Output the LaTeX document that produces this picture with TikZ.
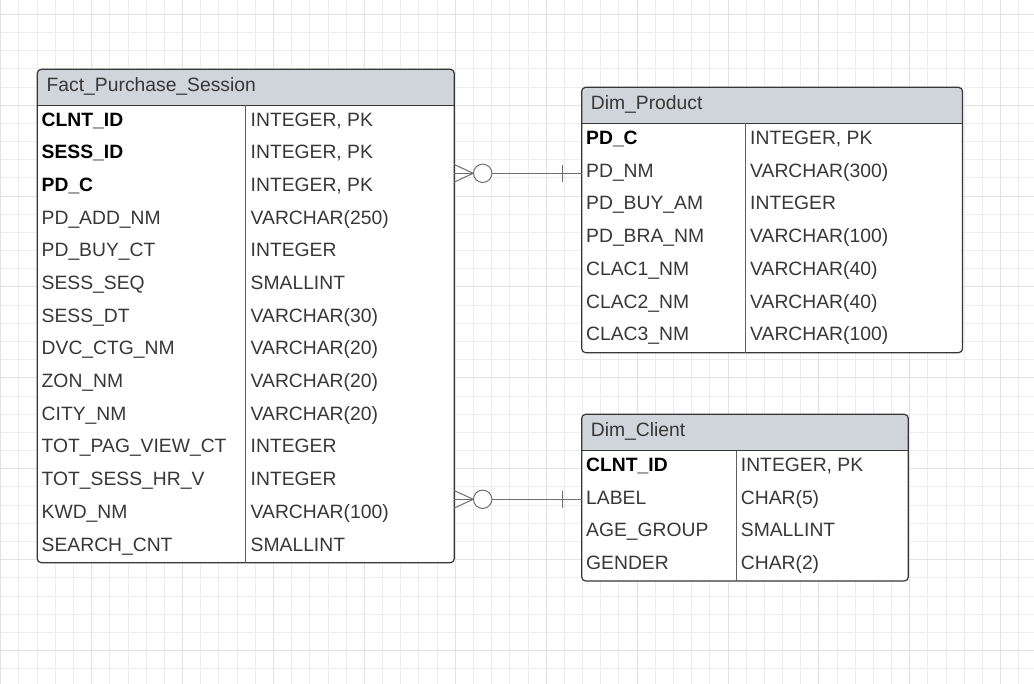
\documentclass[tikz,border=0pt]{standalone}
\usepackage{fontspec}
\setmainfont{Liberation Sans}
\usepackage{tikz}
\usetikzlibrary{arrows.meta}
\definecolor{headgray}{RGB}{208,212,219}
\definecolor{minorgray}{RGB}{237,237,237}
\definecolor{majorgray}{RGB}{226,226,226}
\definecolor{edgegray}{RGB}{55,55,55}
\definecolor{textgray}{RGB}{55,55,55}
\definecolor{linkgray}{RGB}{110,110,110}
\tikzset{
  gridminor/.style={draw=minorgray, line width=1pt},
  gridmajor/.style={draw=majorgray, line width=1pt},
  tabline/.style={draw=edgegray, line width=1.2pt},
  colline/.style={draw=edgegray!80, line width=1pt},
  headtext/.style={anchor=base west, inner sep=0pt, text=textgray},
  keytext/.style={anchor=base west, inner sep=0pt, font=\fontsize{19.3}{23}\selectfont\bfseries, text=black},
  rowtext/.style={anchor=base west, inner sep=0pt, text=textgray},
  link/.style={draw=linkgray, line width=1pt}
}
\begin{document}
\begin{tikzpicture}[x=1pt, y=-1pt, font=\fontsize{19.3}{23}\selectfont]
      \useasboundingbox (0,0) rectangle (1034,684);
      \fill[white] (0,0) rectangle (1034,684);
      \foreach \i in {0,...,56} \draw[gridminor] ({0.8+18.18*\i},0) -- ++(0,684);
      \foreach \j in {0,...,36} \draw[gridminor] (0,{14.3+18.18*\j}) -- ++(1034,0);
      \foreach \i in {0,...,11} \draw[gridmajor] ({0.8+90.9*\i},0) -- ++(0,684);
      \foreach \j in {0,...,7} \draw[gridmajor] (0,{14.3+90.9*\j}) -- ++(1034,0);
      \fill[white, rounded corners=4] (37.3,69.3) rectangle (454.3,562.7);
      \fill[headgray] (37.3,105.3) [rounded corners=4] -- (37.3,69.3) -- (454.3,69.3) [sharp corners] -- (454.3,105.3) -- cycle;
      \draw[tabline, rounded corners=4] (37.3,69.3) rectangle (454.3,562.7);
      \draw[tabline] (37.3,105.3) -- (454.3,105.3);
      \draw[colline] (245.7,105.3) -- (245.7,562.7);
      \fill[white, rounded corners=4] (581.7,87.3) rectangle (962.5,352.7);
      \fill[headgray] (581.7,123.3) [rounded corners=4] -- (581.7,87.3) -- (962.5,87.3) [sharp corners] -- (962.5,123.3) -- cycle;
      \draw[tabline, rounded corners=4] (581.7,87.3) rectangle (962.5,352.7);
      \draw[tabline] (581.7,123.3) -- (962.5,123.3);
      \draw[colline] (745.3,123.3) -- (745.3,352.7);
      \fill[white, rounded corners=4] (581.7,414.3) rectangle (908.3,581);
      \fill[headgray] (581.7,450.7) [rounded corners=4] -- (581.7,414.3) -- (908.3,414.3) [sharp corners] -- (908.3,450.7) -- cycle;
      \draw[tabline, rounded corners=4] (581.7,414.3) rectangle (908.3,581);
      \draw[tabline] (581.7,450.7) -- (908.3,450.7);
      \draw[colline] (736,450.7) -- (736,581);
      \node[headtext] (facthead) at (46.5,91.7) {Fact\_Purchase\_Session};
      \node[keytext] (fclnt) at (41.5,126.2) {CLNT\_ID};
      \node[rowtext] (fclntt) at (250.5,126.2) {INTEGER, PK};
      \node[keytext] (fsess) at (41.5,158.9) {SESS\_ID};
      \node[rowtext] (fsesst) at (250.5,158.9) {INTEGER, PK};
      \node[keytext] (fpdc) at (41.5,191.6) {PD\_C};
      \node[rowtext] (fpdct) at (250.5,191.6) {INTEGER, PK};
      \node[rowtext] (fadd) at (41.5,224.3) {PD\_ADD\_NM};
      \node[rowtext] (faddt) at (250.5,224.3) {VARCHAR(250)};
      \node[rowtext] (fbuy) at (41.5,256.9) {PD\_BUY\_CT};
      \node[rowtext] (fbuyt) at (250.5,256.9) {INTEGER};
      \node[rowtext] (fseq) at (41.5,289.6) {SESS\_SEQ};
      \node[rowtext] (fseqt) at (250.5,289.6) {SMALLINT};
      \node[rowtext] (fdt) at (41.5,322.3) {SESS\_DT};
      \node[rowtext] (fdtt) at (250.5,322.3) {VARCHAR(30)};
      \node[rowtext] (fdvc) at (41.5,354.9) {DVC\_CTG\_NM};
      \node[rowtext] (fdvct) at (250.5,354.9) {VARCHAR(20)};
      \node[rowtext] (fzon) at (41.5,387.6) {ZON\_NM};
      \node[rowtext] (fzont) at (250.5,387.6) {VARCHAR(20)};
      \node[rowtext] (fcity) at (41.5,420.3) {CITY\_NM};
      \node[rowtext] (fcityt) at (250.5,420.3) {VARCHAR(20)};
      \node[rowtext] (fpag) at (41.5,452.9) {TOT\_PAG\_VIEW\_CT};
      \node[rowtext] (fpagt) at (250.5,452.9) {INTEGER};
      \node[rowtext] (fhr) at (41.5,485.6) {TOT\_SESS\_HR\_V};
      \node[rowtext] (fhrt) at (250.5,485.6) {INTEGER};
      \node[rowtext] (fkwd) at (41.5,518.3) {KWD\_NM};
      \node[rowtext] (fkwdt) at (250.5,518.3) {VARCHAR(100)};
      \node[rowtext] (fsrch) at (41.5,551.0) {SEARCH\_CNT};
      \node[rowtext] (fsrcht) at (250.5,551.0) {SMALLINT};
      \node[headtext] (prodhead) at (590.7,110) {Dim\_Product};
      \node[keytext] (ppdc) at (586,144.3) {PD\_C};
      \node[rowtext] (ppdct) at (750,144.3) {INTEGER, PK};
      \node[rowtext] (pnm) at (586,177.1) {PD\_NM};
      \node[rowtext] (pnmt) at (750,177.1) {VARCHAR(300)};
      \node[rowtext] (pbuy) at (586,209.8) {PD\_BUY\_AM};
      \node[rowtext] (pbuyt) at (750,209.8) {INTEGER};
      \node[rowtext] (pbra) at (586,242.6) {PD\_BRA\_NM};
      \node[rowtext] (pbrat) at (750,242.6) {VARCHAR(100)};
      \node[rowtext] (pcl1) at (586,275.4) {CLAC1\_NM};
      \node[rowtext] (pcl1t) at (750,275.4) {VARCHAR(40)};
      \node[rowtext] (pcl2) at (586,308.2) {CLAC2\_NM};
      \node[rowtext] (pcl2t) at (750,308.2) {VARCHAR(40)};
      \node[rowtext] (pcl3) at (586,340.9) {CLAC3\_NM};
      \node[rowtext] (pcl3t) at (750,340.9) {VARCHAR(100)};
      \node[headtext] (clnthead) at (590.7,436.7) {Dim\_Client};
      \node[keytext] (cid) at (586,471.6) {CLNT\_ID};
      \node[rowtext] (cidt) at (740.7,471.6) {INTEGER, PK};
      \node[rowtext] (clab) at (586,504.1) {LABEL};
      \node[rowtext] (clabt) at (740.7,504.1) {CHAR(5)};
      \node[rowtext] (cage) at (586,536.7) {AGE\_GROUP};
      \node[rowtext] (caget) at (740.7,536.7) {SMALLINT};
      \node[rowtext] (cgen) at (586,569.3) {GENDER};
      \node[rowtext] (cgent) at (740.7,569.3) {CHAR(2)};
      \coordinate (fprod) at (454.3,173.3);
      \coordinate (pfact) at (581.7,173.3);
      \coordinate (fclient) at (454.3,499.3);
      \coordinate (cfact) at (581.7,499.3);
      \draw[link] (fprod) -- (pfact);
      \draw[link] (fprod) ++(0,-8.7) -- ++(19,8.7) -- ++(-19,8.7);
      \draw[link, fill=white] (fprod) ++(28.4,0) circle (9.2);
      \draw[link] (pfact) ++(-19,-8.7) -- ++(0,17.4);
      \draw[link] (fclient) -- (cfact);
      \draw[link] (fclient) ++(0,-8.7) -- ++(19,8.7) -- ++(-19,8.7);
      \draw[link, fill=white] (fclient) ++(28.4,0) circle (9.2);
      \draw[link] (cfact) ++(-19,-8.7) -- ++(0,17.4);
    \end{tikzpicture}
\end{document}
